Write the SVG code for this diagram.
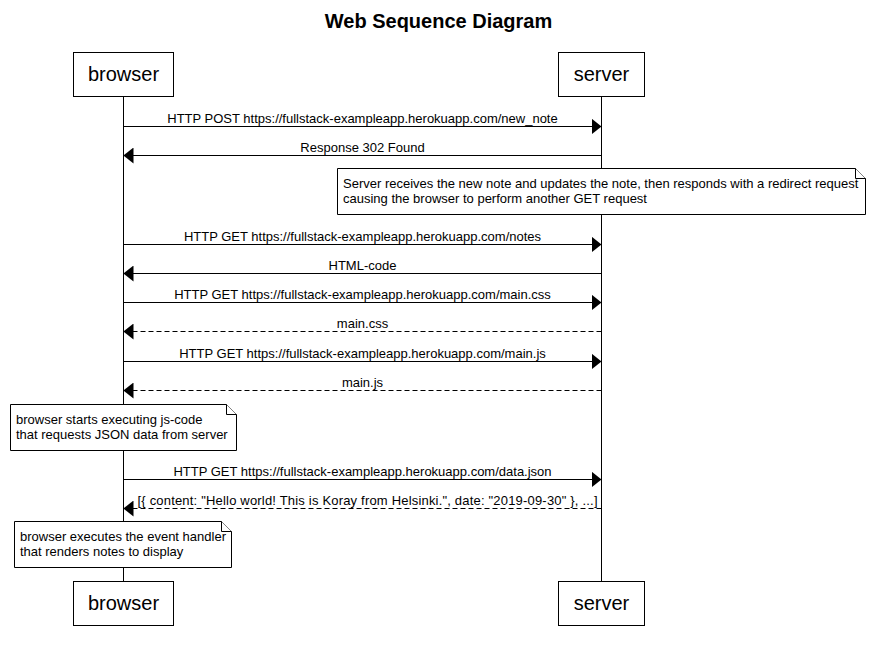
<svg xmlns="http://www.w3.org/2000/svg" width="874" height="650" viewBox="0 0 874 650">
<style>
text{font-family:"Liberation Sans",Arial,sans-serif;fill:#000}
.title{font-size:20px;font-weight:bold;text-anchor:middle}
.part{font-size:20px;text-anchor:middle}
.msg{font-size:13px;text-anchor:middle}
.note{font-size:13px}
.box{fill:#fff;stroke:#000;stroke-width:1}
.life{stroke:#000;stroke-width:1}
.arrow{stroke:#000;stroke-width:1;fill:none;marker-end:url(#ah)}
.dash{stroke-dasharray:5,3}
</style>
<defs>
<marker id="ah" viewBox="0 0 10 16" refX="10" refY="8" markerWidth="10" markerHeight="16" markerUnits="userSpaceOnUse" orient="auto">
<path d="M0,0 L10,8 L0,16 Z" fill="#000"/>
</marker>
</defs>
<rect width="874" height="650" fill="#fff"/>
<text class="title" x="438.5" y="28">Web Sequence Diagram</text>
<g id="lifelines">
<line class="life" x1="123.5" y1="96" x2="123.5" y2="581"/>
<line class="life" x1="601.5" y1="96" x2="601.5" y2="581"/>
</g>
<g id="browser">
<rect class="box" x="73.5" y="52.5" width="100" height="44"/>
<text class="part" x="123.5" y="81">browser</text>
</g>
<g id="server">
<rect class="box" x="558.5" y="52.5" width="86" height="44"/>
<text class="part" x="601.5" y="81">server</text>
</g>
<g id="browser-bottom">
<rect class="box" x="73.5" y="581.5" width="100" height="44"/>
<text class="part" x="123.5" y="610">browser</text>
</g>
<g id="server-bottom">
<rect class="box" x="558.5" y="581.5" width="86" height="44"/>
<text class="part" x="601.5" y="610">server</text>
</g>
<g id="connectors">
<line class="arrow" x1="123.5" y1="126.5" x2="601.5" y2="126.5"/>
<text class="msg" x="362.5" y="122.5">HTTP POST https://fullstack-exampleapp.herokuapp.com/new_note</text>
<line class="arrow" x1="601.5" y1="155.5" x2="123.5" y2="155.5"/>
<text class="msg" x="362.5" y="151.5">Response 302 Found</text>
<line class="arrow" x1="123.5" y1="244.5" x2="601.5" y2="244.5"/>
<text class="msg" x="362.5" y="240.5">HTTP GET https://fullstack-exampleapp.herokuapp.com/notes</text>
<line class="arrow" x1="601.5" y1="273.5" x2="123.5" y2="273.5"/>
<text class="msg" x="362.5" y="269.5">HTML-code</text>
<line class="arrow" x1="123.5" y1="302.5" x2="601.5" y2="302.5"/>
<text class="msg" x="362.5" y="298.5">HTTP GET https://fullstack-exampleapp.herokuapp.com/main.css</text>
<line class="arrow dash" x1="601.5" y1="331.5" x2="123.5" y2="331.5"/>
<text class="msg" x="362.5" y="327.5">main.css</text>
<line class="arrow" x1="123.5" y1="361.5" x2="601.5" y2="361.5"/>
<text class="msg" x="362.5" y="357.5">HTTP GET https://fullstack-exampleapp.herokuapp.com/main.js</text>
<line class="arrow dash" x1="601.5" y1="390.5" x2="123.5" y2="390.5"/>
<text class="msg" x="362.5" y="386.5">main.js</text>
<line class="arrow" x1="123.5" y1="479.5" x2="601.5" y2="479.5"/>
<text class="msg" x="362.5" y="475.5">HTTP GET https://fullstack-exampleapp.herokuapp.com/data.json</text>
<line class="arrow dash" x1="601.5" y1="508.5" x2="123.5" y2="508.5"/>
<text class="msg" x="367.5" y="504.5" textLength="460" lengthAdjust="spacing">[{ content: "Hello world! This is Koray from Helsinki.", date: "2019-09-30" }, ...]</text>
</g>
<g id="note1">
<path class="box" d="M337.5,168.5 H855.5 L865.5,178.5 V214.5 H337.5 Z"/>
<path class="box" d="M855.5,168.5 V178.5 H865.5"/>
<text class="note" x="343" y="188">Server receives the new note and updates the note, then responds with a redirect request</text>
<text class="note" x="343" y="203">causing the browser to perform another GET request</text>
</g>
<g id="note2">
<path class="box" d="M10.5,404.5 H226.5 L236.5,414.5 V450.5 H10.5 Z"/>
<path class="box" d="M226.5,404.5 V414.5 H236.5"/>
<text class="note" x="16" y="424">browser starts executing js-code</text>
<text class="note" x="16" y="439">that requests JSON data from server</text>
</g>
<g id="note3">
<path class="box" d="M14.5,521.5 H221.5 L231.5,531.5 V567.5 H14.5 Z"/>
<path class="box" d="M221.5,521.5 V531.5 H231.5"/>
<text class="note" x="20" y="541">browser executes the event handler</text>
<text class="note" x="20" y="556">that renders notes to display</text>
</g>
</svg>
